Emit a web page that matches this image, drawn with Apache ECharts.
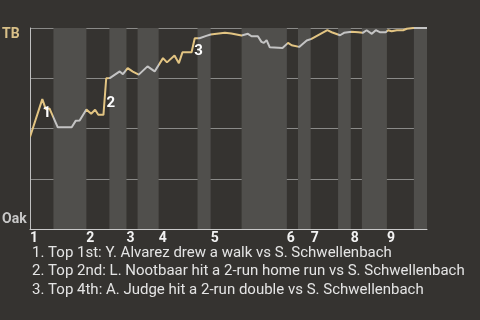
<!DOCTYPE html>
<html>
<head>
<meta charset="utf-8">
<script src="https://cdn.jsdelivr.net/npm/echarts@6/dist/echarts.min.js"></script>
<style>
html,body{margin:0;padding:0;background:#353330;}
#c{width:480px;height:320px;}
</style>
</head>
<body>
<div id="c"></div>
<script>
// Game progress (% of game) and TB win probability (%)
const progress = [0,3.1,4.0,4.9,7.0,10.5,11.5,12.5,14.2,15.4,16.4,17.2,18.5,19.2,20.1,22.6,23.4,24.6,25.9,27.4,29.6,31.4,33.5,34.5,36.4,37.5,38.4,40.7,41.5,42.7,44.4,45.5,49.1,50.7,53.3,53.7,54.9,55.8,57.4,58.3,58.9,59.6,60.4,63.6,65.0,65.9,67.8,69.7,70.9,74.9,76.0,78.1,79.1,81.0,82.7,83.8,84.8,86.1,87.1,88.1,89.6,90.2,91.1,92.4,94.0,94.9,96.5,100];
const tbWinProb = [45.8,64.6,59.5,60.0,50.6,50.6,53.8,54.0,59.5,57.3,59.3,56.8,56.8,75.0,75.1,78.4,77.0,80.0,78.3,76.8,80.9,78.4,85.0,82.9,86.3,82.5,87.9,87.9,94.9,94.9,96.1,96.8,97.6,97.3,96.3,95.9,97.1,95.9,95.9,93.1,92.6,93.9,90.4,90.1,92.6,91.4,90.6,93.8,94.6,98.9,97.9,96.4,97.6,98.1,97.9,97.6,98.9,97.1,98.9,97.9,97.9,98.9,98.4,98.9,98.9,99.6,100,100];
// Start of each half-inning (top 1st, bottom 1st, top 2nd, ...) in game progress %
const halfStarts = [0,5.9,14.2,20.0,24.3,27.1,32.4,42.2,45.5,53.3,64.7,67.5,70.7,77.6,80.8,83.6,89.9,96.7];
const gameEnd = 100;
const inningLabels = ['1','2','3','4','5','6','7','8','9'];
const noteEvents = [2,14,29];
const notes = [
  '1. Top 1st: Y. Alvarez drew a walk vs S. Schwellenbach',
  '2. Top 2nd: L. Nootbaar hit a 2-run home run vs S. Schwellenbach',
  '3. Top 4th: A. Judge hit a 2-run double vs S. Schwellenbach'
];
const teamTop = 'TB';
const teamBottom = 'Oak';

const GOLD = '#e2c482';
const GREY = '#c4c4c4';
const FONT = 'Roboto';

const bounds = halfStarts.concat([gameEnd]);
const pieces = [];
const bands = [];
for (let i = 0; i < halfStarts.length; i++) {
  const isTop = i % 2 === 0;
  pieces.push({gte: bounds[i], lt: i === halfStarts.length - 1 ? gameEnd + 1 : bounds[i + 1], color: isTop ? GOLD : GREY});
  if (!isTop) bands.push([{xAxis: bounds[i]}, {xAxis: bounds[i + 1]}]);
}
const inningStarts = halfStarts.filter((v, i) => i % 2 === 0);
const labelOffsets = [[1, 4], [1, 25], [-1, 13]];

const chart = echarts.init(document.getElementById('c'), null, {renderer: 'canvas'});
chart.setOption({
  backgroundColor: '#353330',
  animation: false,
  grid: {left: 30, right: 53, top: 28, height: 201},
  xAxis: {
    type: 'value', min: 0, max: gameEnd,
    offset: 1,
    axisLine: {show: true, lineStyle: {color: '#c8c8c8', width: 1}},
    axisTick: {show: false},
    splitLine: {show: false},
    axisLabel: {
      customValues: inningStarts,
      formatter: v => inningLabels[inningStarts.indexOf(v)] || '',
      color: '#f2f2f2', fontFamily: FONT, fontWeight: 'bold', fontSize: 14,
      align: 'left', margin: 1
    }
  },
  yAxis: {
    type: 'value', min: 0, max: 100, interval: 25,
    axisLine: {show: true, lineStyle: {color: '#c0c0c0', width: 1}},
    axisTick: {show: false},
    axisLabel: {show: false},
    splitLine: {show: true, lineStyle: {color: '#8a8a88', width: 1}}
  },
  visualMap: {type: 'piecewise', show: false, dimension: 0, seriesIndex: 0, pieces: pieces},
  series: [{
    type: 'line',
    data: progress.map((x, i) => [x, tbWinProb[i]]),
    symbol: 'none',
    lineStyle: {width: 2},
    z: 3,
    markArea: {
      silent: true,
      itemStyle: {color: '#504f4c'},
      data: bands
    },
    markPoint: {
      symbol: 'circle', symbolSize: 0,
      label: {show: true, position: 'inside', color: '#ffffff', fontFamily: FONT, fontWeight: 'bold', fontSize: 15},
      data: noteEvents.map((idx, i) => ({
        coord: [progress[idx], tbWinProb[idx]],
        value: String(i + 1),
        label: {offset: labelOffsets[i], formatter: String(i + 1)}
      }))
    }
  }],
  graphic: [
    {type: 'text', left: 2, top: 27, style: {text: teamTop, fill: '#d9c088', font: 'bold 14px ' + FONT}},
    {type: 'text', left: 2, top: 212, style: {text: teamBottom, fill: '#c8c8c8', font: 'bold 14px ' + FONT}},
    {type: 'text', left: 32, top: 244, style: {text: notes.join('\n'), fill: '#e4e4e4', font: '15px ' + FONT, lineHeight: 18.3}}
  ]
});
</script>
</body>
</html>
